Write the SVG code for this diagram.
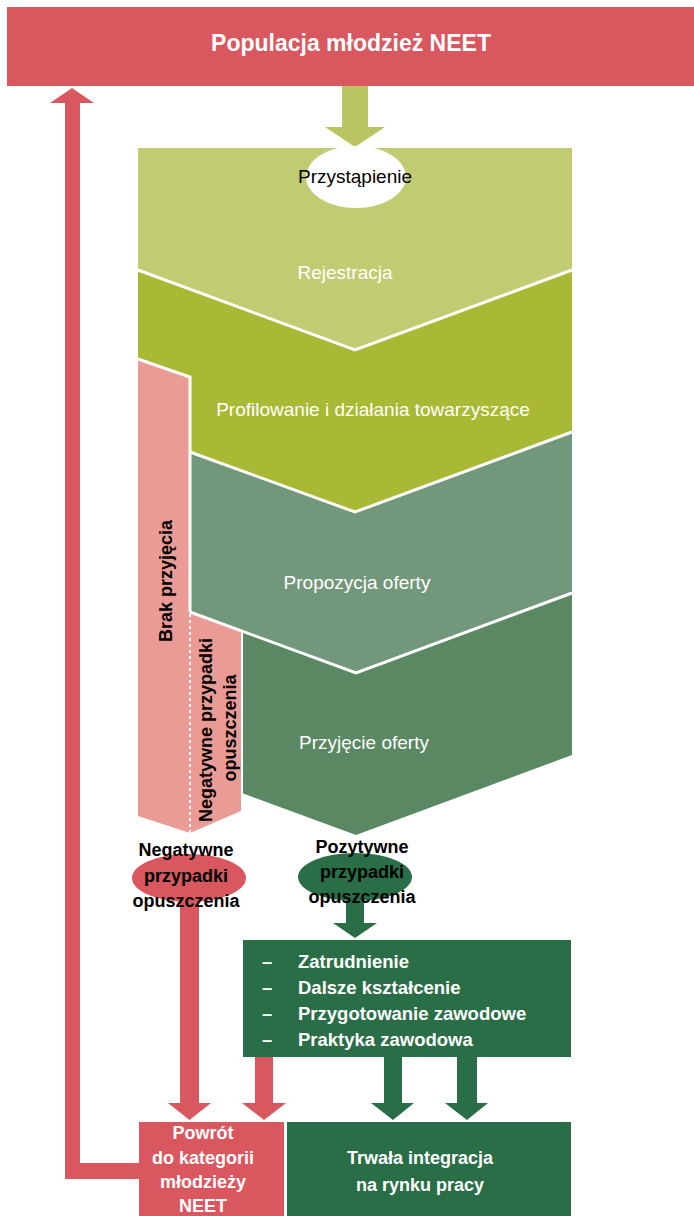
<svg xmlns="http://www.w3.org/2000/svg" width="694" height="1216" viewBox="0 0 694 1216">
<style>
.red{fill:#d9575e}
.dg{fill:#2a6e47}
.pink{fill:#eb9b96}
.sep{fill:none;stroke:#ffffff;stroke-width:3;stroke-linejoin:miter}
.t{font-family:"Liberation Sans",Arial,sans-serif;font-size:18px;text-anchor:middle}
.n{font-size:19px}
.w{fill:#ffffff}
.k{fill:#000000}
.b{font-weight:bold}
.l{text-anchor:start;font-size:18.5px}
</style>
<rect width="694" height="1216" fill="#ffffff"/>
<g id="connectors">
  <polygon id="arrow-top" fill="#bac461" points="342,86 368,86 368,127 385,127 355,147 325,127 342,127"/>
  <polygon id="arrow-loop" class="red" points="139,1163 80,1163 80,103 94,103 72,88 50,103 65,103 65,1179 139,1179"/>
  <polygon id="arrow-neg" class="red" points="180,898 199,898 199,1103 211,1103 189.5,1120 168,1103 180,1103"/>
  <polygon id="arrow-list-red" class="red" points="255,1057 273,1057 273,1103 286,1103 264,1120 242,1103 255,1103"/>
  <polygon id="arrow-list-green1" class="dg" points="384,1057 402,1057 402,1103 414,1103 393,1120 371,1103 384,1103"/>
  <polygon id="arrow-list-green2" class="dg" points="457,1057 477,1057 477,1103 488,1103 467,1120 445,1103 457,1103"/>
  <polygon id="arrow-poz" class="dg" points="346,898 364,898 364,923 377,923 355,938 333,923 346,923"/>
</g>
<g id="node-populacja">
  <rect class="red" x="7" y="7" width="687" height="79"/>
  <text class="t w b" x="351" y="51" style="font-size:23px">Populacja młodzież NEET</text>
</g>
<g id="node-rejestracja">
  <polygon fill="#c3cb72" points="138,148 572,148 572,270 355,350 138,270"/>
  <text class="t w n" x="345" y="279">Rejestracja</text>
</g>
<g id="node-profilowanie">
  <polygon fill="#a9b935" points="138,270 355,350 572,270 572,432 355,512 138,432"/>
  <text class="t w n" x="373" y="416">Profilowanie i działania towarzyszące</text>
</g>
<g id="node-propozycja">
  <polygon fill="#72977a" points="190,452 355,512 572,432 572,593 356,673 190,612"/>
  <text class="t w n" x="357" y="589">Propozycja oferty</text>
</g>
<g id="node-przyjecie">
  <polygon fill="#5a8862" points="242,631 356,673 572,593 572,755 356,835 242,793"/>
  <text class="t w n" x="364" y="749">Przyjęcie oferty</text>
</g>
<g id="node-brak">
  <polygon class="pink" points="138,359 190,377 190,833 138,816"/>
  <text class="t k b" transform="translate(172,581) rotate(-90)">Brak przyjęcia</text>
</g>
<g id="node-negatywne-bar">
  <polygon class="pink" points="190,612 241,631 241,811 190,833"/>
  <text class="t k b" transform="translate(212,730) rotate(-90)">Negatywne przypadki</text>
  <text class="t k b" transform="translate(236,728) rotate(-90)">opuszczenia</text>
</g>
<g id="separators">
  <polyline class="sep" points="138,270 355,350 572,270"/>
  <polyline class="sep" points="190,452 355,512 572,432"/>
  <polyline class="sep" points="190,612 356,673 572,593"/>
  <polyline class="sep" stroke-width="2" points="138,359 190,377 190,612"/>
  <line x1="242" y1="631" x2="242" y2="812" stroke="#ffffff" stroke-width="2"/>
  <line x1="190" y1="614" x2="190" y2="833" stroke="#ffffff" stroke-width="2" stroke-dasharray="3,3"/>
</g>
<g id="node-przystapienie">
  <ellipse cx="356" cy="177" rx="50" ry="31" fill="#ffffff"/>
  <text class="t k n" x="355" y="183">Przystąpienie</text>
</g>
<g id="node-negatywne">
  <ellipse class="red" cx="189" cy="878" rx="57" ry="24"/>
  <text class="t k b" x="186" y="856">Negatywne</text>
  <text class="t k b" x="186" y="882">przypadki</text>
  <text class="t k b" x="186" y="907">opuszczenia</text>
</g>
<g id="node-pozytywne">
  <ellipse class="dg" cx="355" cy="877" rx="57" ry="24"/>
  <text class="t k b" x="362" y="853">Pozytywne</text>
  <text class="t k b" x="362" y="878">przypadki</text>
  <text class="t k b" x="362" y="903">opuszczenia</text>
</g>
<g id="node-lista">
  <rect class="dg" x="243" y="940" width="328" height="117"/>
  <text class="t w b l" x="262" y="968">–</text>
  <text class="t w b l" x="298" y="968">Zatrudnienie</text>
  <text class="t w b l" x="262" y="994">–</text>
  <text class="t w b l" x="298" y="994">Dalsze kształcenie</text>
  <text class="t w b l" x="262" y="1020">–</text>
  <text class="t w b l" x="298" y="1020">Przygotowanie zawodowe</text>
  <text class="t w b l" x="262" y="1046">–</text>
  <text class="t w b l" x="298" y="1046">Praktyka zawodowa</text>
</g>
<g id="node-powrot">
  <rect class="red" x="139" y="1122" width="145" height="94"/>
  <text class="t w b" x="203" y="1139">Powrót</text>
  <text class="t w b" x="203" y="1164">do kategorii</text>
  <text class="t w b" x="203" y="1188">młodzieży</text>
  <text class="t w b" x="203" y="1212">NEET</text>
</g>
<g id="node-trwala">
  <rect class="dg" x="287" y="1122" width="284" height="94"/>
  <text class="t w b" x="420" y="1164">Trwała integracja</text>
  <text class="t w b" x="420" y="1191">na rynku pracy</text>
</g>
</svg>
